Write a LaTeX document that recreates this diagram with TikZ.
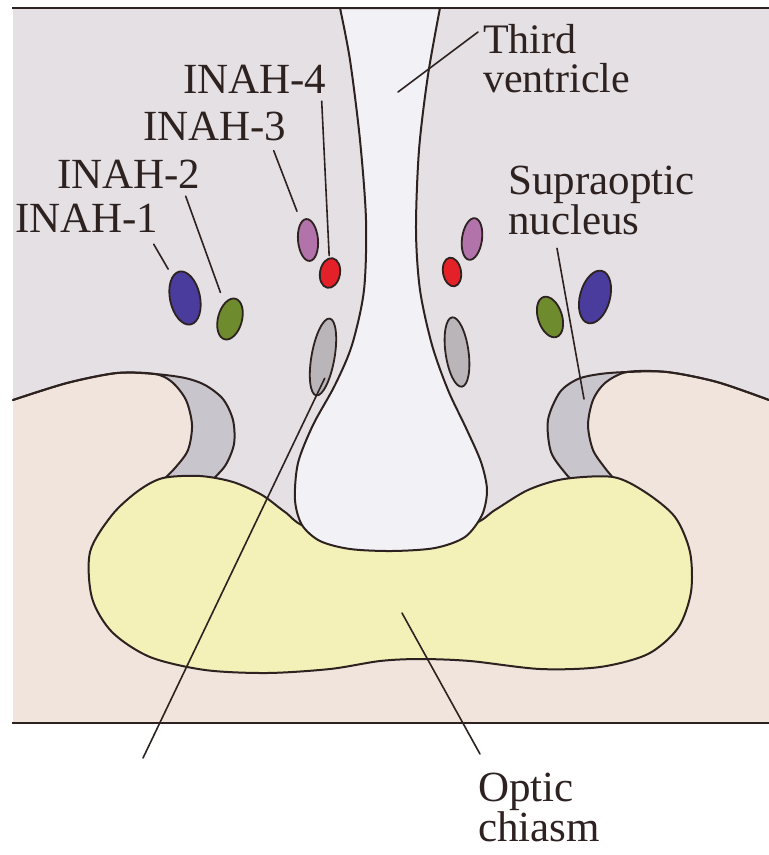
\documentclass[tikz,border=0pt]{standalone}
\usepackage{fontspec}
\setmainfont{Liberation Serif}
\usetikzlibrary{shapes.geometric}

\definecolor{ink}{HTML}{2E2220}
\definecolor{tissue}{HTML}{E4E0E4}
\definecolor{beige}{HTML}{F0E4DC}
\definecolor{crescent}{HTML}{C8C5CD}
\definecolor{chiasm}{HTML}{F3F0B8}
\definecolor{ventricle}{HTML}{F2F2F6}
\definecolor{inahblue}{HTML}{4A3C9C}
\definecolor{inahgreen}{HTML}{6E8C2E}
\definecolor{inahpurple}{HTML}{B272AA}
\definecolor{inahred}{HTML}{E42129}
\definecolor{inahgray}{HTML}{B9B5B9}

\begin{document}
\begin{tikzpicture}[x=1pt, y=-1pt,
  outline/.style={draw=ink, line width=2pt, line join=round, line cap=round},
  nucleus/.style={ellipse, draw=ink, line width=1.8pt, inner sep=0pt},
  leader/.style={draw=ink, line width=1.6pt, line cap=round},
  lbl/.style={anchor=base west, inner sep=0pt, text=ink, font=\fontsize{43}{46}\selectfont},
  lbltwo/.style={anchor=north west, inner sep=0pt, text=ink, align=left, font=\fontsize{43}{36}\selectfont}]

\useasboundingbox (0,0) rectangle (769,855);
\fill[white] (0,0) rectangle (769,855);
\fill[tissue] (13,8) rectangle (769,723);

% crescents (partly covered by the beige tissue)
\fill[crescent] plot[smooth] coordinates {(13,400) (67,383) (117,373) (155,374) (185,378) (205,385) (223,399) (233,420) (234,444) (225,466) (208,484) (200,495)} -- (13,495) -- cycle;
\fill[crescent] plot[smooth] coordinates {(769,400) (717,382) (667,372) (627,372) (600,374) (578,379) (560,392) (548,420) (551,452) (566,474) (580,490)} -- (769,490) -- cycle;

% beige tissue below the hooks
\fill[beige] plot[smooth] coordinates {(13,400) (67,383) (117,373) (155,374) (172,382) (186,400) (192,425) (188,450) (175,468) (158,486)}
  -- (200,600) -- (580,600)
  -- plot[smooth] coordinates {(616,486) (605,468) (593,450) (588,425) (593,400) (605,383) (627,372) (667,372) (717,382) (769,400)}
  -- (769,723) -- (13,723) -- cycle;

% outlines of the crescents and hooks
\draw[outline] plot[smooth] coordinates {(13,400) (67,383) (117,373) (155,374) (185,378) (205,385) (223,399) (233,420) (234,444) (225,466) (208,484)};
\draw[outline] plot[smooth] coordinates {(13,400) (67,383) (117,373) (155,374) (172,382) (186,400) (192,425) (188,450) (175,468) (160,483)};
\draw[outline] plot[smooth] coordinates {(769,400) (717,382) (667,372) (627,372) (600,374) (578,379) (560,392) (548,420) (551,452) (566,474) (574,482)};
\draw[outline] plot[smooth] coordinates {(769,400) (717,382) (667,372) (627,372) (605,383) (593,400) (588,425) (593,450) (605,468) (615,480)};

% optic chiasm
\draw[outline, fill=chiasm] plot[smooth cycle] coordinates {(163,478) (200,476) (233,482) (262,495) (285,512) (310,528) (392,538) (470,525) (495,510) (528,490) (564,479) (613,477) (645,492) (675,517) (690,552) (691,592) (678,628) (648,654) (600,667) (540,669) (470,661) (420,659) (380,661) (330,669) (267,673) (205,670) (150,657) (112,632) (92,598) (90,552) (112,515) (138,491)};

% third ventricle
\draw[outline, fill=ventricle] plot[smooth] coordinates {(340,8) (350,60) (360,140) (366,220) (364,290) (352,345) (335,385) (313,425) (298,463) (295,500) (302,525) (320,541) (350,549) (392,551) (435,548) (465,537) (482,515) (487,490) (481,462) (466,428) (448,390) (432,345) (420,290) (416,230) (419,150) (428,75) (440,8)} -- cycle;

% nuclei, left side
\node[nucleus, fill=inahblue,   minimum width=30pt, minimum height=54pt, rotate=12]  (n1) at (185,298) {};
\node[nucleus, fill=inahgreen,  minimum width=24pt, minimum height=42pt, rotate=-15] (n2) at (230,319) {};
\node[nucleus, fill=inahpurple, minimum width=20pt, minimum height=42pt, rotate=5]   (n3) at (308,240) {};
\node[nucleus, fill=inahred,    minimum width=20pt, minimum height=30pt, rotate=-10] (n4) at (330,273) {};
\node[nucleus, fill=inahgray,   minimum width=23pt, minimum height=78pt, rotate=-10] (g1) at (323,357) {};
% nuclei, right side
\node[nucleus, fill=inahblue,   minimum width=30pt, minimum height=54pt, rotate=-15] (m1) at (595,297) {};
\node[nucleus, fill=inahgreen,  minimum width=24pt, minimum height=42pt, rotate=18]  (m2) at (550,317) {};
\node[nucleus, fill=inahpurple, minimum width=20pt, minimum height=42pt, rotate=-8]  (m3) at (472,239) {};
\node[nucleus, fill=inahred,    minimum width=18pt, minimum height=29pt, rotate=10]  (m4) at (452,272) {};
\node[nucleus, fill=inahgray,   minimum width=23pt, minimum height=70pt, rotate=8]   (g2) at (457,352) {};

% frame
\draw[ink, line width=2.4pt] (12,8) -- (769,8);
\draw[ink, line width=2.4pt] (12,723) -- (769,723);

% labels
\node[lbl] (inah4) at (183,93) {INAH-4};
\node[lbl] (inah3) at (143,140) {INAH-3};
\node[lbl] (inah2) at (57,188) {INAH-2};
\node[lbl] (inah1) at (15,232) {INAH-1};
\node[lbltwo, font=\fontsize{42}{39}\selectfont] (third) at (483,24) {Third\\ventricle};
\node[lbltwo] (supra) at (508,166) {Supraoptic\\nucleus};
\node[lbltwo] (optic) at (478,773) {Optic\\chiasm};

% free ends of leaders
\coordinate (tv) at (398,92);
\coordinate (so) at (584,399);
\coordinate (oc) at (402,613);
\coordinate (gend) at (143,758);

% leaders
\draw[leader, shorten >=8pt] ([shift={(-5,12)}]inah1.south east) -- (n1);
\draw[leader, shorten >=11pt] ([shift={(-15,8)}]inah2.south east) -- (n2);
\draw[leader, shorten >=11pt] ([shift={(-13,10)}]inah3.south east) -- (n3);
\draw[leader, shorten >=2pt] ([shift={(-5,8)}]inah4.south east) -- (n4);
\draw[leader] ([shift={(-5,8)}]third.north west) -- (tv);
\draw[leader] ([shift={(49,13)}]supra.south west) -- (so);
\draw[leader] (oc) -- ([shift={(2,-19)}]optic.north west);
\draw[leader, shorten <=-20pt] (g1.south) -- (gend);

\end{tikzpicture}
\end{document}
